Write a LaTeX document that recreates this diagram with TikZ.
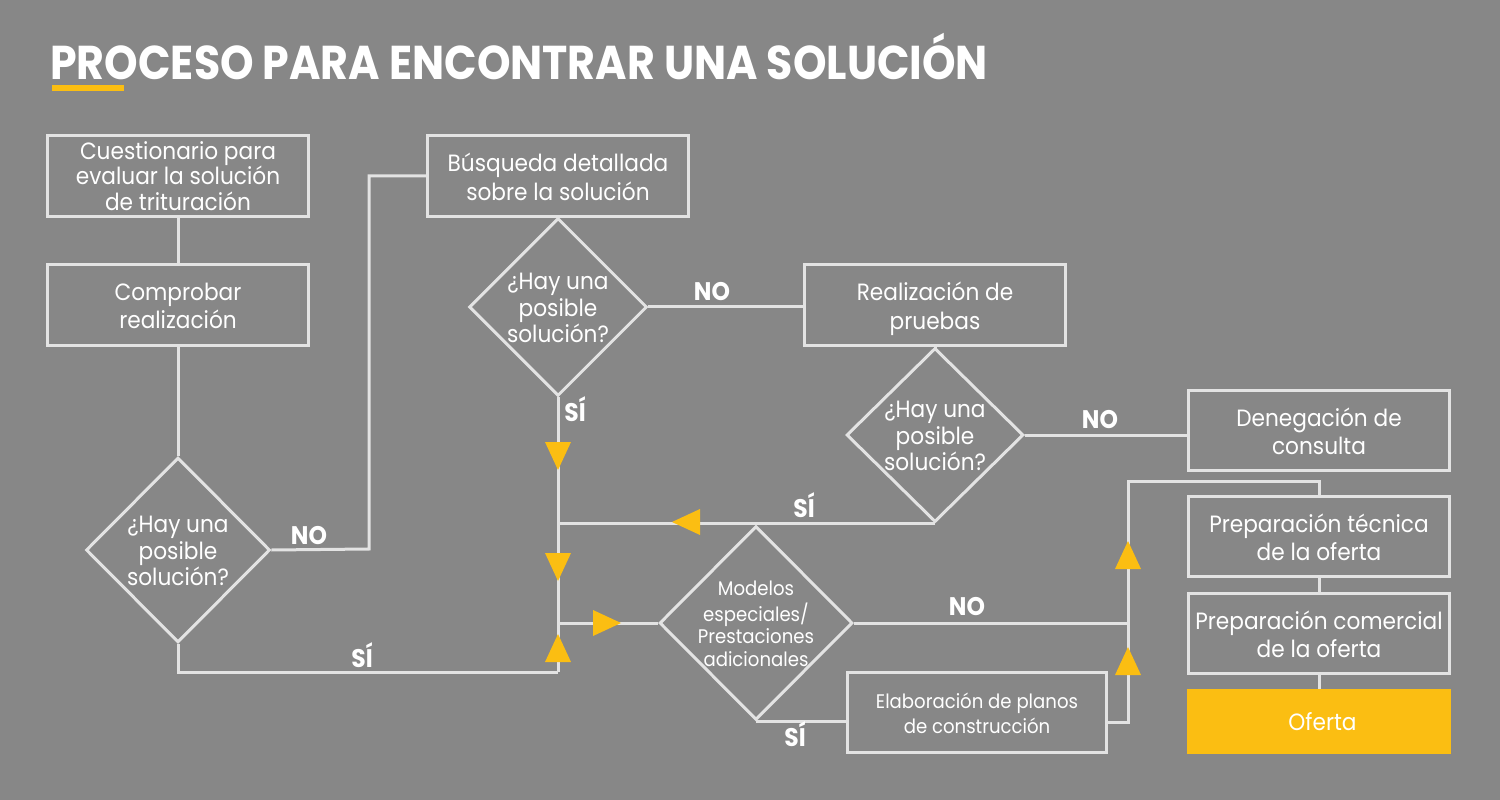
\documentclass[tikz,border=0pt]{standalone}
\usepackage{fontspec}
\usetikzlibrary{shapes.geometric}
\setmainfont{Poppins}[FakeStretch=0.92]
\newfontfamily\titlefont[FakeStretch=0.9]{Poppins}
\definecolor{bgc}{HTML}{878787}
\definecolor{lc}{HTML}{E3E3E3}
\definecolor{ylw}{HTML}{FBBE12}
\newcommand\bt[2][15]{\makebox[0pt]{\raisebox{-.5\height}[0pt][0pt]{\fontsize{13.4}{#1}\selectfont\begin{tabular}[b]{@{}c@{}}#2\end{tabular}}}}
\newcommand\st[2][12.8]{\makebox[0pt]{\raisebox{-.5\height}[0pt][0pt]{\fontsize{11.2}{#1}\selectfont\begin{tabular}[b]{@{}c@{}}#2\end{tabular}}}}
\tikzset{
 tdown/.pic={\fill[ylw] (-13,-14) -- (13,-14) -- (0,14) -- cycle;},
 tup/.pic={\fill[ylw] (-13,14) -- (13,14) -- (0,-14) -- cycle;},
 tleft/.pic={\fill[ylw] (14,-13) -- (14,13) -- (-14,0) -- cycle;},
 tright/.pic={\fill[ylw] (-14,-13) -- (-14,13) -- (14,0) -- cycle;}}
\begin{document}
\begin{tikzpicture}[x=0.02cm,y=-0.02cm,
 conn/.style={draw=lc,line width=0.06cm},
 box/.style={rectangle,draw=lc,line width=0.06cm,minimum width=5.22cm,minimum height=1.62cm,inner sep=0pt,text=white},
 dia/.style={diamond,draw=lc,line width=0.06cm,inner sep=0pt,text=white},
 lbl/.style={text=white,font=\fontsize{14.5}{15}\selectfont\bfseries,inner sep=0pt,anchor=base}]
\fill[bgc] (0,0) rectangle (1500,800);
\useasboundingbox (0,0) rectangle (1500,800);
% title
\node[anchor=base west,inner sep=0pt,text=white,font=\titlefont\bfseries\fontsize{27}{30}\selectfont] (title) at (50,80) {PROCESO PARA ENCONTRAR UNA SOLUCIÓN};
\fill[ylw] (52,85) rectangle (124,91);
% nodes
\node[box] (b1) at (178,176) {\bt[13.3]{Cuestionario para\\evaluar la solución\\de trituración}};
\node[box] (b2) at (178,305) {\bt[15.8]{Comprobar\\realización}};
\node[dia,minimum width=3.68cm,minimum height=3.7cm] (d1) at (178,550) {\bt{¿Hay una\\posible\\solución?}};
\node[box] (b3) at (558,176) {\bt[16.2]{Búsqueda detallada\\sobre la solución}};
\node[dia,minimum width=3.56cm,minimum height=3.56cm] (d2) at (558,307) {\bt{¿Hay una\\posible\\solución?}};
\node[box] (b4) at (935,305) {\bt[16.2]{Realización de\\pruebas}};
\node[dia,minimum width=3.54cm,minimum height=3.48cm] (d3) at (935,435) {\bt{¿Hay una\\posible\\solución?}};
\node[box] (b5) at (1319,430.5) {\bt[16.2]{Denegación de\\consulta}};
\node[box] (b7) at (1319,536.5) {\bt[16.2]{Preparación técnica\\de la oferta}};
\node[box] (b8) at (1319,633.5) {\bt[16.2]{Preparación comercial\\de la oferta}};
\node[box,fill=ylw,draw=ylw,minimum height=1.26cm] (of) at (1319,721.5) {\hspace{0.14cm}\bt{Oferta}};
\node[dia,minimum width=3.86cm,minimum height=3.88cm] (d4) at (756,623) {\st{Modelos\\especiales/\\Prestaciones\\adicionales}};
\node[box,minimum width=5.2cm] (b6) at (977,712.5) {\st[14.2]{Elaboración de planos\\de construcción}};
% connectors
\coordinate (k1) at (369,549);
\coordinate (j1) at (558,672);
\coordinate (j2) at (558,623);
\coordinate (k2) at (1128,623);
\coordinate (k3) at (1128,481);
\coordinate (k4) at (1128,722);
\draw[conn] (b1.south) -- (b2.north);
\draw[conn] (b2.south) -- (d1.north);
\draw[conn] (d1.east) -- (k1) |- (b3.west);
\draw[conn] (d1.south) |- (j1);
\draw[conn] (d2.south) -- (j1);
\draw[conn] (d2.east) -- (d2.east -| b4.west);
\draw[conn] (b4.south) -- (d3.north);
\draw[conn] (d3.east) -- (d3.east -| b5.west);
\draw[conn] (d3.south) -- (d3.south -| d2.south);
\draw[conn] (j2) -- (d4.west);
\draw[conn] (d4.south) -- (d4.south -| b6.west);
\draw[conn] (d4.east) -- (k2);
\draw[conn] (b6.east |- k4) -- (k4) -- (k3) -| (b7.north);
\draw[conn] (b7.south) -- (b8.north);
\draw[conn] (b8.south) -- (of.north);
% markers
\pic at (558,456) {tdown};
\pic at (558,567) {tdown};
\pic at (558,648) {tup};
\pic at (607,623) {tright};
\pic at (686,522) {tleft};
\pic at (1128,555) {tup};
\pic at (1128,661) {tup};
% labels
\node[lbl] (n1) at (309,544) {NO};
\node[lbl] (s1) at (575,421) {SÍ};
\node[lbl] (n2) at (712,300) {NO};
\node[lbl] (n3) at (1100,428) {NO};
\node[lbl] (s2) at (804,517) {SÍ};
\node[lbl] (s3) at (362,667) {SÍ};
\node[lbl] (n4) at (967,615) {NO};
\node[lbl] (s4) at (795,746) {SÍ};
\end{tikzpicture}
\end{document}
